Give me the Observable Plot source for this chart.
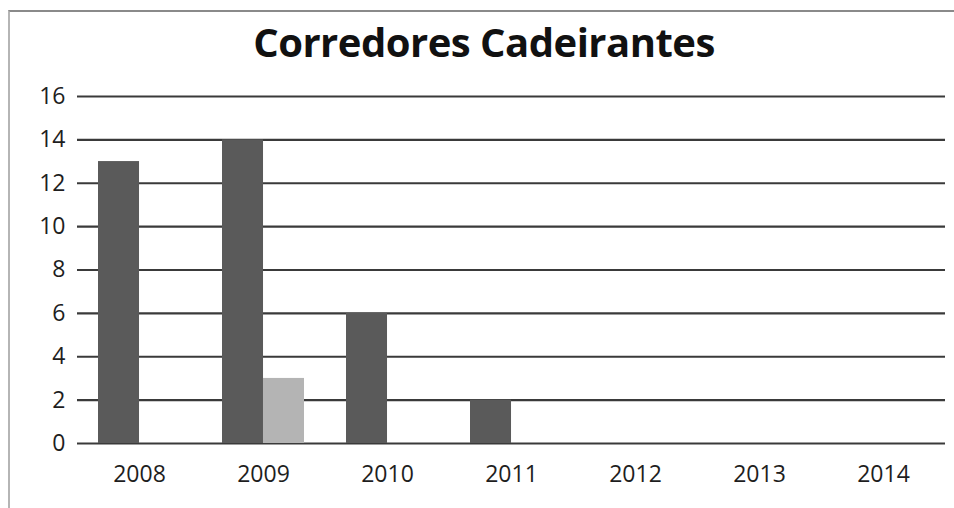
<!DOCTYPE html>
<html>
<head>
<meta charset="utf-8">
<script src="https://cdn.jsdelivr.net/npm/d3@7"></script>
<script src="https://cdn.jsdelivr.net/npm/@observablehq/plot@0.6"></script>
<style>
  html, body { margin: 0; padding: 0; background: #fff; }
  body { width: 954px; height: 508px; position: relative; overflow: hidden; font-family: "Open Sans", sans-serif; }
  #frame { position: absolute; left: 8px; top: 10px; width: 960px; height: 520px; border-left: 2px solid #b5b5b5; border-top: 2px solid #8a8a8a; }
  #title { position: absolute; left: 0; top: 14px; width: 968px; text-align: center; font-size: 40px; font-weight: 700; color: #111; letter-spacing: -0.5px; }
  #chart { position: absolute; left: 0; top: 70px; }
</style>
</head>
<body>
<div id="frame"></div>
<div id="title">Corredores Cadeirantes</div>
<div id="chart"></div>
<script>
const years = ["2008", "2009", "2010", "2011", "2012", "2013", "2014"];
const seriesA = [13, 14, 6, 2, 0, 0, 0];
const seriesB = [0, 3, 0, 0, 0, 0, 0];
const yTicks = [0, 2, 4, 6, 8, 10, 12, 14, 16];

const W = 954, mL = 77, mR = 9, padInner = 0.339;
const halfBand = ((W - mL - mR) / years.length) * (1 - padInner) / 2;

const dataA = years.map((year, i) => ({year, value: seriesA[i]}));
const dataB = years.map((year, i) => ({year, value: seriesB[i]}));

const chart = Plot.plot({
  width: W,
  height: 438,
  marginTop: 26,
  marginBottom: 65,
  marginLeft: mL,
  marginRight: mR,
  style: {fontFamily: "Open Sans", fontSize: "23px", color: "#1e1e1e", background: "transparent"},
  x: {domain: years, paddingInner: padInner, paddingOuter: padInner / 2, tickSize: 0, tickPadding: 22, label: null},
  y: {domain: [0, 16], ticks: yTicks, tickSize: 0, tickPadding: 12, label: null},
  marks: [
    Plot.ruleY(yTicks, {stroke: "#3a3a3a", strokeWidth: 2.2}),
    Plot.barY(dataA, {x: "year", y: "value", fill: "#5a5a5a", insetRight: halfBand}),
    Plot.barY(dataB, {x: "year", y: "value", fill: "#b4b4b4", insetLeft: halfBand})
  ]
});
document.getElementById("chart").appendChild(chart);
</script>
</body>
</html>
